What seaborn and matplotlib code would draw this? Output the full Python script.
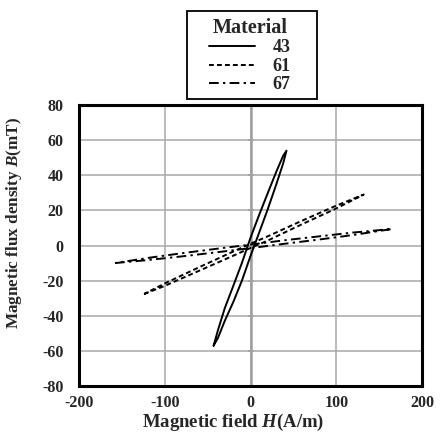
import numpy as np
import pandas as pd
import seaborn as sns
import matplotlib.pyplot as plt
from matplotlib.lines import Line2D
from matplotlib.patches import Rectangle

# B-H loops: ascending branch (lower) and descending branch (upper)
h43 = [-43, -38, -30, -20, -10, 0, 10, 20, 30, 38, 42]
b43_up = [-57.0, -52.7, -42.9, -32.1, -20.0, -6.0, 7.2, 20.5, 34.7, 46.6, 54.0]
b43_down = [-57.0, -48.3, -35.7, -22.9, -9.9, 4.4, 17.3, 29.7, 41.9, 51.0, 54.0]

h61 = [-124, -100, -60, -20, 0, 20, 60, 100, 132]
b61_up = [-27.6, -23.0, -14.4, -5.8, -1.4, 2.8, 12.1, 21.1, 29.0]
b61_down = [-27.6, -21.6, -12.4, -3.4, 1.0, 5.2, 14.1, 22.7, 29.0]

h67 = [-158, -120, -80, -40, 0, 40, 80, 120, 165]
b67_up = [-10.0, -8.3, -6.2, -3.9, -1.5, 1.0, 3.4, 6.0, 9.4]
b67_down = [-10.0, -7.1, -4.4, -1.9, 0.5, 3.0, 5.2, 7.4, 9.4]

materials = ['43', '61', '67']
x_ticks = [-200, -100, 0, 100, 200]
y_ticks = [-80, -60, -40, -20, 0, 20, 40, 60, 80]


def loop(name, h, up, down):
    # closed path: go up along one branch, come back along the other
    hh = list(h) + list(h[::-1])
    bb = list(up) + list(down[::-1])
    return pd.DataFrame({'H': hh, 'B': bb, 'Material': name})


df = pd.concat([loop('43', h43, b43_up, b43_down),
                loop('61', h61, b61_up, b61_down),
                loop('67', h67, b67_up, b67_down)], ignore_index=True)

sns.set_theme(style='white')
plt.rcParams['font.family'] = ['Liberation Serif', 'DejaVu Serif']
plt.rcParams['font.weight'] = 'bold'
plt.rcParams['axes.unicode_minus'] = False
plt.rcParams['mathtext.fontset'] = 'custom'
plt.rcParams['mathtext.it'] = 'Liberation Serif:italic:bold'
plt.rcParams['mathtext.rm'] = 'Liberation Serif:bold'

W, H = 444, 432
fig = plt.figure(figsize=(W / 100, H / 100), dpi=100)
ax = fig.add_axes([79 / W, 1 - 386 / H, (422 - 79) / W, (386 - 105) / H])

ax.set_xlim(-200, 200)
ax.set_ylim(-80, 80)
ax.set_xticks(x_ticks)
ax.set_yticks(y_ticks)
ax.grid(True, color='#a8a8a8', linewidth=1.1)
ax.axvline(0, color='#a0a0a0', linewidth=1.8, zorder=1)
# little tick marks on the zero axis
ax.plot([0] * len(y_ticks), y_ticks, linestyle='none', marker='_', markersize=5,
        color='#a0a0a0', markeredgewidth=1.2, zorder=1)

dash_map = {'43': '', '61': (2.5, 1.6), '67': (5, 2.2, 1.2, 2.2)}
sns.lineplot(data=df, x='H', y='B', style='Material', units='Material', estimator=None,
             sort=False, color='black', linewidth=1.4, dashes=dash_map, legend=False, ax=ax,
             zorder=3)

for s in ax.spines.values():
    s.set_color('black')
    s.set_linewidth(2.2)

ax.tick_params(axis='both', length=0, labelsize=11.5)
ax.tick_params(axis='x', pad=6.5)
ax.tick_params(axis='y', pad=11)
for lab in ax.get_xticklabels() + ax.get_yticklabels():
    lab.set_fontweight('bold')

ax.set_xlabel('Magnetic field $\\mathit{H}$(A/m)', fontsize=13.5, fontweight='bold')
ax.xaxis.set_label_coords((233 - 79) / 343, (386 - 427) / 281)
ax.xaxis.label.set_verticalalignment('baseline')
ax.set_ylabel('Magnetic flux density $\\mathit{B}$(mT)', fontsize=12.3, fontweight='bold')
ax.yaxis.set_label_coords((14.5 - 79) / 343, (386 - 223) / 281)
ax.yaxis.label.set_verticalalignment('center')

handles = []
for m in materials:
    ln = Line2D([], [], color='black', linewidth=1.4)
    if dash_map[m]:
        ln.set_dashes(dash_map[m])
    handles.append(ln)
leg = fig.legend(handles, materials, title='Material', loc='upper center',
                 bbox_to_anchor=(250 / W, 1 - 9 / H), frameon=False,
                 fontsize=13, title_fontsize=14.5, handlelength=2.5,
                 handletextpad=1.0, labelspacing=0.08, borderpad=0)
leg.get_title().set_fontweight('bold')
for t in leg.get_texts():
    t.set_fontweight('bold')
fig.patches.append(Rectangle((187 / W, 1 - 99 / H), 130 / W, 88 / H, transform=fig.transFigure,
                             fill=False, edgecolor='black', linewidth=1.3))

fig.savefig('out.png', dpi=100)
